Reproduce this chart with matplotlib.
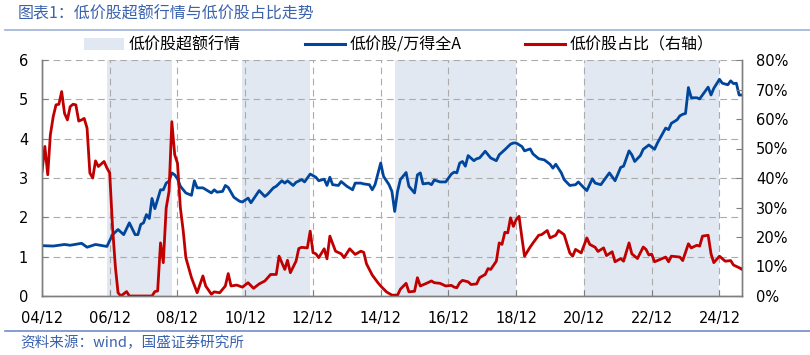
import numpy as np
import matplotlib
matplotlib.use("Agg")
import matplotlib.pyplot as plt
import matplotlib.dates as mdates
from matplotlib.lines import Line2D
from matplotlib.patches import Patch

plt.rcParams['font.family'] = ['Noto Sans CJK SC', 'DejaVu Sans']

# months counted from 2004-12
start_month = '2004-12'

blue_months = [0, 4, 8, 10, 14, 16, 19, 23, 25, 27, 29, 31, 33, 34, 35, 36, 37, 38, 39, 40,
               42, 43, 44, 45, 46, 47, 48, 49, 51, 53, 54, 55, 57, 60, 61, 62, 64, 65, 66, 68,
               70, 71, 73, 74, 77, 79, 80, 82, 83, 85, 86, 87, 89, 90, 92, 93, 95, 97, 98, 100,
               101, 102, 103, 105, 106, 108, 110, 111, 113, 114, 116, 117, 118, 120, 121, 123, 124, 125, 126, 127,
               129, 130, 132, 133, 134, 135, 137, 138, 139, 141, 143, 145, 146, 147, 148, 149, 150, 151, 153, 154,
               155, 157, 159, 161, 162, 164, 166, 167, 168, 170, 171, 173, 174, 176, 178, 180, 181, 182, 184, 185,
               187, 189, 190, 192, 193, 195, 196, 198, 199, 201, 203, 205, 206, 208, 209, 210, 212, 213, 215, 217,
               218, 220, 221, 222, 223, 225, 226, 227, 228, 229, 230, 232, 233, 234, 236, 237, 238, 240, 241, 243,
               244, 245, 246, 247, 248]
blue_values = [1.28, 1.27, 1.31, 1.29, 1.34, 1.24, 1.31, 1.26, 1.56, 1.69, 1.56, 1.86, 1.56, 1.56, 1.82, 1.86, 2.07, 1.97, 2.48, 2.22,
               2.70, 2.70, 2.87, 2.92, 3.13, 3.08, 2.98, 2.79, 2.62, 2.56, 2.93, 2.75, 2.75, 2.62, 2.70, 2.64, 2.66, 2.81, 2.76, 2.51,
               2.41, 2.39, 2.49, 2.37, 2.68, 2.53, 2.59, 2.75, 2.79, 2.93, 2.87, 2.93, 2.81, 2.89, 2.96, 2.90, 3.10, 3.02, 2.93, 2.97,
               2.81, 3.02, 2.83, 2.81, 2.91, 2.79, 2.70, 2.87, 2.87, 2.85, 2.83, 2.70, 2.83, 3.38, 3.04, 2.83, 2.66, 2.15, 2.66, 2.96,
               3.14, 2.79, 2.62, 3.08, 3.13, 2.85, 2.87, 2.83, 2.95, 2.90, 2.90, 3.10, 3.15, 3.13, 3.38, 3.42, 3.30, 3.57, 3.44, 3.49,
               3.51, 3.68, 3.51, 3.44, 3.59, 3.72, 3.86, 3.89, 3.89, 3.80, 3.69, 3.74, 3.61, 3.49, 3.46, 3.35, 3.25, 3.35, 3.13, 2.96,
               2.81, 2.83, 2.90, 2.75, 2.68, 2.98, 2.87, 2.83, 2.93, 3.13, 2.93, 3.27, 3.30, 3.69, 3.59, 3.42, 3.57, 3.73, 3.84, 3.73,
               3.89, 4.14, 4.27, 4.23, 4.39, 4.48, 4.58, 4.62, 4.64, 5.30, 5.04, 5.04, 5.01, 5.11, 5.31, 5.11, 5.28, 5.51, 5.41, 5.37,
               5.47, 5.40, 5.41, 5.11, 5.11]

red_months = [0, 1, 2, 3, 4, 5, 6, 7, 8, 9, 10, 11, 12, 13, 14, 15, 16, 17, 18, 19,
              20, 22, 23, 24, 25, 26, 27, 28, 30, 31, 39, 40, 41, 42, 43, 44, 45, 46, 47, 48,
              49, 50, 51, 53, 55, 57, 58, 60, 61, 63, 65, 66, 67, 69, 71, 73, 75, 77, 79, 81,
              83, 84, 86, 87, 88, 90, 91, 92, 94, 95, 96, 97, 98, 100, 101, 102, 104, 106, 107, 109,
              111, 113, 114, 115, 117, 119, 120, 122, 124, 126, 127, 129, 130, 132, 133, 134, 136, 138, 139, 141,
              143, 145, 146, 147, 148, 149, 151, 152, 154, 155, 157, 158, 159, 161, 162, 163, 164, 165, 166, 167,
              168, 169, 170, 171, 173, 174, 176, 177, 179, 180, 182, 183, 185, 187, 188, 189, 191, 193, 194, 196,
              197, 199, 200, 202, 203, 205, 206, 208, 209, 211, 213, 214, 215, 216, 217, 219, 221, 222, 223, 226,
              227, 229, 230, 232, 233, 234, 236, 237, 238, 240, 242, 244, 245, 247, 248]
red_values = [42.2, 50.7, 41.1, 54.6, 60.8, 64.8, 65.0, 69.3, 61.9, 59.7, 64.2, 65.0, 64.8, 59.3, 59.7, 60.2, 56.9, 41.7, 40.0, 45.8,
              43.9, 45.6, 43.4, 41.7, 23.1, 9.6, 1.1, 0.0, 1.5, 0.0, 0.0, 1.5, 1.7, 18.0, 11.3, 29.8, 35.5, 59.1, 47.9, 45.0,
              29.9, 22.0, 13.0, 6.2, 1.1, 6.8, 3.4, 0.6, 1.4, 1.1, 3.4, 7.6, 3.4, 3.7, 3.0, 4.5, 2.6, 4.1, 5.1, 7.3,
              7.3, 13.5, 9.0, 12.1, 7.9, 11.8, 16.1, 16.5, 16.3, 22.0, 14.7, 14.3, 13.0, 16.0, 12.6, 20.3, 15.2, 14.3, 13.0, 16.0,
              14.1, 15.2, 14.8, 10.9, 7.1, 4.5, 3.4, 1.4, 0.3, 0.3, 2.3, 4.3, 1.4, 1.6, 6.2, 3.4, 4.2, 5.1, 4.5, 4.3,
              3.4, 3.6, 3.0, 2.8, 4.5, 5.3, 4.8, 3.9, 4.1, 6.2, 7.3, 9.3, 9.0, 11.8, 18.0, 17.5, 21.6, 21.4, 26.5, 23.6,
              25.9, 27.0, 19.7, 13.5, 16.6, 18.0, 20.6, 20.8, 22.2, 19.7, 20.6, 22.2, 20.8, 14.6, 13.5, 15.8, 14.6, 19.7, 17.5, 16.5,
              15.1, 16.3, 13.7, 15.0, 11.6, 12.7, 11.8, 18.0, 14.3, 12.7, 16.6, 15.8, 13.9, 14.2, 11.6, 12.4, 13.2, 11.6, 13.5, 13.2,
              12.0, 17.7, 16.3, 17.2, 16.9, 20.3, 20.6, 14.3, 11.3, 13.5, 11.8, 12.0, 10.5, 9.6, 9.0]

shade_periods = [('2006-11', '2008-10'), ('2010-11', '2012-11'),
                 ('2015-05', '2018-12'), ('2020-12', '2024-12')]
tick_months = ['2004-12', '2006-12', '2008-12', '2010-12', '2012-12', '2014-12',
               '2016-12', '2018-12', '2020-12', '2022-12', '2024-12']

label_shade = '低价股超额行情'
label_blue = '低价股/万得全A'
label_red = '低价股占比（右轴）'
title = '图表1：低价股超额行情与低价股占比走势'
source = '资料来源：wind，国盛证券研究所'

blue_c = '#00469C'
red_c = '#C00000'
shade_c = '#E1E8F1'
grid_c = '#ABABAB'
spine_c = '#7F7F7F'
text_blue = '#3A62AE'


def to_dates(months):
    base = np.datetime64(start_month, 'M')
    return (base + np.array(months)).astype('datetime64[D]')


def month(s):
    return np.datetime64(s, 'M').astype('datetime64[D]')


fig = plt.figure(figsize=(8.1, 3.55), dpi=100)
W, H = 810, 355
ax = fig.add_axes([42 / W, 1 - 296 / H, 700 / W, 236 / H])

for a, b in shade_periods:
    ax.axvspan(month(a), month(b), color=shade_c, lw=0, zorder=0.5)

ax.plot(to_dates(blue_months), blue_values, color=blue_c, lw=2.0, zorder=3)

ax.set_ylim(0, 6)
ax.set_yticks(range(0, 7))
ax.set_xlim(month('2004-12'), month('2025-08'))
ax.set_xticks([month(t) for t in tick_months])
ax.xaxis.set_major_formatter(mdates.DateFormatter('%y/%m'))

ax.grid(True, color=grid_c, lw=0.8, linestyle=(0, (6, 4)))
ax.set_axisbelow(False)
for ln in ax.get_xgridlines() + ax.get_ygridlines():
    ln.set_zorder(1)

ax2 = ax.twinx()
ax2.plot(to_dates(red_months), red_values, color=red_c, lw=2.0)
ax2.set_ylim(0, 80)
ax2.set_yticks(range(0, 81, 10))
ax2.yaxis.set_major_formatter(lambda v, p: f'{v:.0f}%')

for a in (ax, ax2):
    a.spines['top'].set_visible(False)
    for s in ('left', 'right', 'bottom'):
        a.spines[s].set_color(spine_c)
        a.spines[s].set_linewidth(1.0)
    a.tick_params(direction='in', length=4, color=spine_c, labelsize=10.5,
                  labelfontfamily='DejaVu Sans', labelcolor='black')
ax.tick_params(axis='y', pad=10)
ax.tick_params(axis='x', pad=11)
ax2.tick_params(axis='y', pad=10)

handles = [Patch(facecolor=shade_c, edgecolor='none'),
           Line2D([], [], color=blue_c, lw=2.2),
           Line2D([], [], color=red_c, lw=2.2)]
fig.legend(handles, [label_shade, label_blue, label_red], ncol=3, frameon=False,
           loc='center', bbox_to_anchor=(399 / W, 1 - 45 / H), fontsize=11.5,
           handlelength=2.5, handletextpad=0.3, columnspacing=4.0)

fig.text(18 / W, 1 - 14 / H, title, color=text_blue, fontsize=11.5, va='center', ha='left')
fig.add_artist(Line2D([5 / W, 1], [1 - 30 / H] * 2, color='#9DB1D8', lw=1.2))
fig.add_artist(Line2D([5 / W, 1], [1 - 331 / H] * 2, color='#6E8FC8', lw=1.2))
fig.text(20 / W, 1 - 343 / H, source, color=text_blue, fontsize=10.5, va='center', ha='left')

fig.savefig('out.png', dpi=100)
